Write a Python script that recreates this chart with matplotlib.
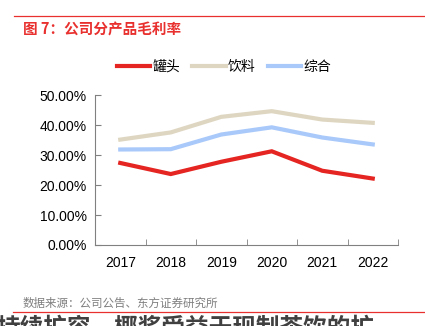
import matplotlib
matplotlib.use('Agg')
import matplotlib.pyplot as plt
from matplotlib.lines import Line2D

plt.rcParams['font.family'] = ['Liberation Sans', 'Noto Sans CJK SC', 'DejaVu Sans']

years = ['2017', '2018', '2019', '2020', '2021', '2022']
guantou = [27.4, 23.7, 27.8, 31.3, 24.8, 22.2]
yinliao = [35.2, 37.6, 42.8, 44.7, 41.9, 40.8]
zonghe = [31.9, 32.0, 36.9, 39.3, 35.9, 33.6]
series_names = ['罐头', '饮料', '综合']
colors = ['#E42521', '#DED6C1', '#A9C9FA']

W, H = 425, 326
fig = plt.figure(figsize=(W / 100, H / 100), dpi=100)

# axes placed in pixel terms
left, right, bottom, top = 95, 398, 245, 95.3
ax = fig.add_axes([left / W, 1 - bottom / H, (right - left) / W, (bottom - top) / H])

x = list(range(len(years)))
for vals, c in zip([guantou, yinliao, zonghe], colors):
    ax.plot(x, vals, color=c, lw=3, solid_joinstyle='miter')

ax.set_xlim(-0.5, len(years) - 0.5)
ax.set_ylim(0, 50)
ax.set_yticks([0, 10, 20, 30, 40, 50])
ax.set_yticklabels([f'{v:.2f}%' for v in [0, 10, 20, 30, 40, 50]], fontsize=10)
ax.set_xticks(x)
ax.set_xticklabels(years, fontsize=10)
ax.set_xticks([i + 0.5 for i in range(-1, len(years))], minor=True)
ax.tick_params(axis='x', which='major', length=0, pad=8)
ax.tick_params(axis='x', which='minor', length=4, direction='in', color='#808080')
ax.tick_params(axis='y', length=4, direction='in', color='#808080', pad=6)
for s in ['top', 'right']:
    ax.spines[s].set_visible(False)
for s in ['left', 'bottom']:
    ax.spines[s].set_color('#808080')
    ax.spines[s].set_linewidth(0.8)

# legend
handles = [Line2D([0], [0], color=c, lw=3) for c in colors]
fig.legend(handles, series_names, loc='center', bbox_to_anchor=(224 / W, 1 - 67 / H),
           ncol=3, frameon=False, fontsize=10, handlelength=2.4, handletextpad=0.15,
           columnspacing=0.9, borderpad=0, borderaxespad=0)

red = '#E8312F'
fig.add_artist(Line2D([14 / W, 1], [1 - 16 / H] * 2, color=red, lw=0.9))
fig.text(23 / W, 1 - 29 / H, '图 7：公司分产品毛利率', color=red, fontsize=10.5,
         fontweight='bold', va='center', ha='left', family=['Noto Sans CJK SC', 'DejaVu Sans'])
fig.text(23 / W, 1 - 303 / H, '数据来源：公司公告、东方证券研究所', color='#7F7F7F', fontsize=8.3,
         va='center', ha='left', family=['Noto Sans CJK SC', 'DejaVu Sans'])
fig.add_artist(Line2D([13 / W, 1], [1 - 311.5 / H] * 2, color=red, lw=0.9))
fig.text(-4 / W, 1 - 316 / H, '持续扩容，椰浆受益于现制茶饮的扩', color='#404040', fontsize=17,
         fontweight='bold', va='top', ha='left', family=['Noto Sans CJK SC', 'DejaVu Sans'])

fig.savefig('out.png', dpi=100)
